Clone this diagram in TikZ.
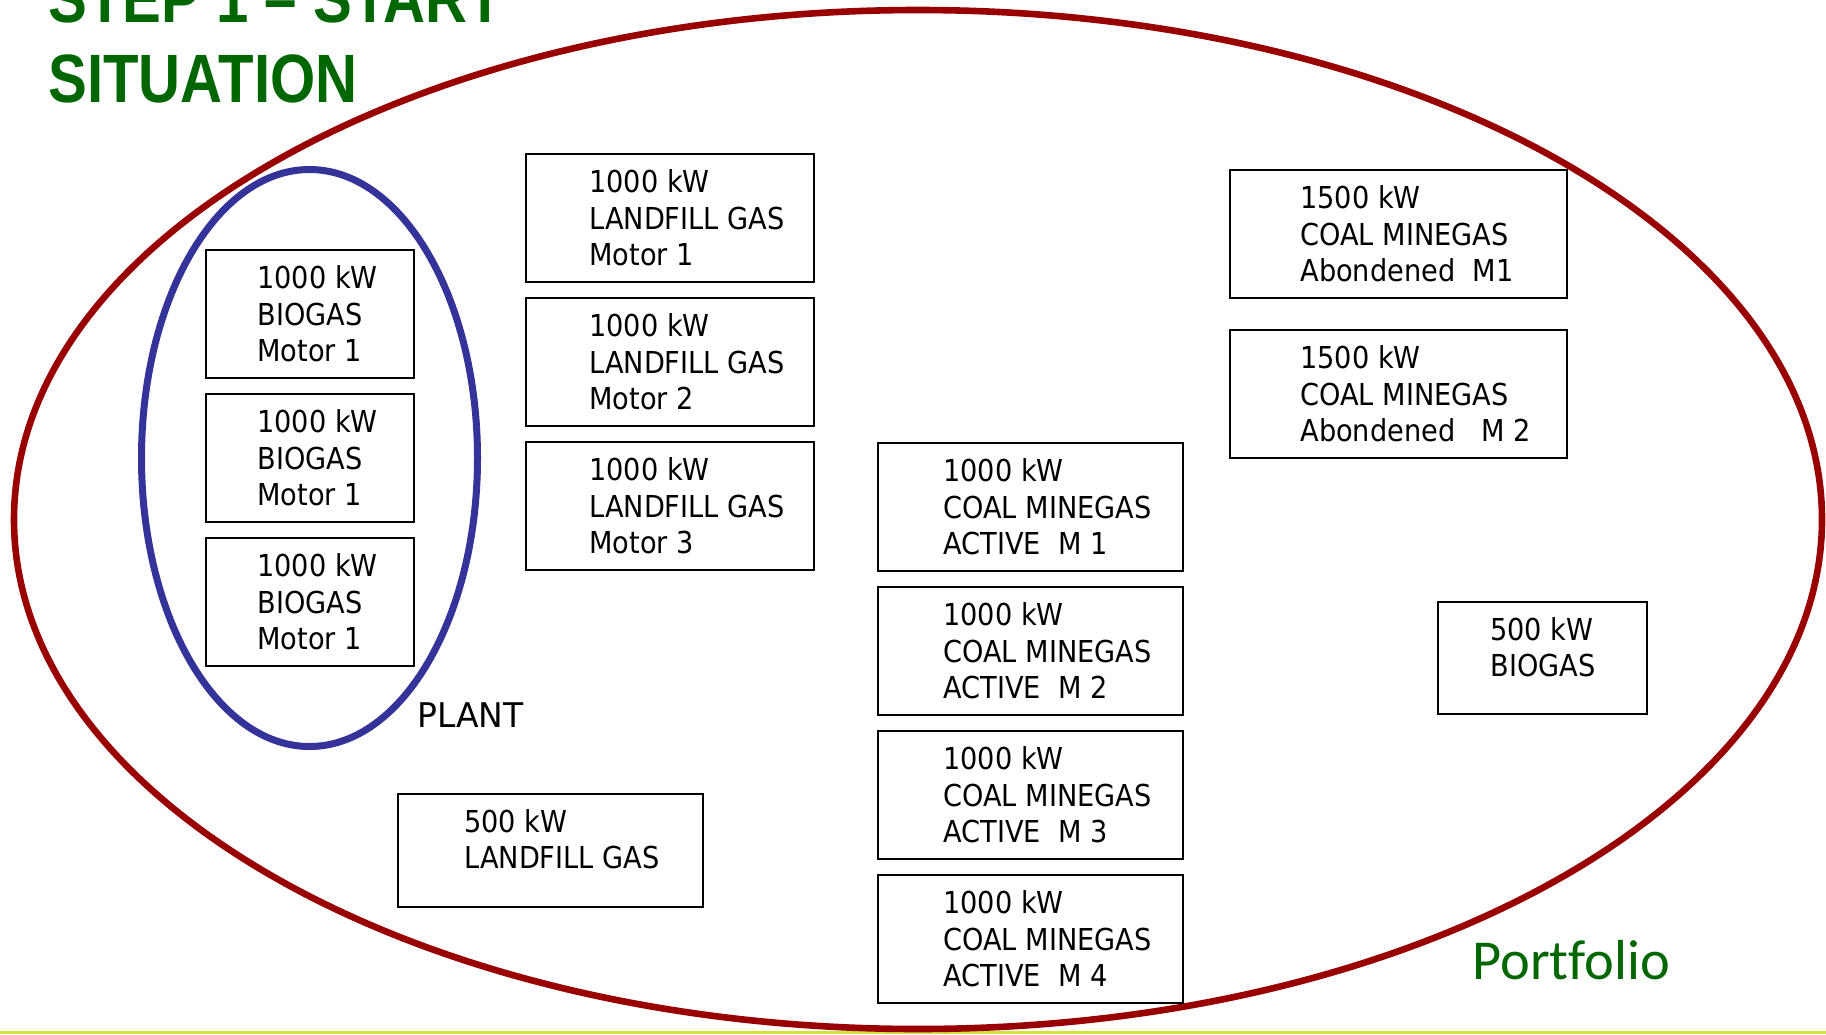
\documentclass[tikz,border=0pt]{standalone}
\usepackage{fontspec}
\usetikzlibrary{shapes.geometric}
\newfontfamily\boxfont{DejaVu Sans}[FakeStretch=0.9]
\newfontfamily\plantfont{DejaVu Sans}[FakeStretch=0.97]
\newfontfamily\titlefont{Liberation Sans}[FakeStretch=0.85]
\newfontfamily\portfont{Carlito}[Ligatures={NoCommon}]
\definecolor{ttlgreen}{RGB}{0,102,0}
\definecolor{pfred}{RGB}{153,0,0}
\definecolor{plblue}{RGB}{51,51,153}
\definecolor{rulegreen}{RGB}{214,226,58}
\tikzset{
  pbox/.style={draw=black, line width=0.7pt, fill=white, inner sep=0pt, rectangle},
  ptext/.style={inner sep=0pt, align=left, anchor=west, text=black,
    font=\boxfont\fontsize{15.1}{18.3}\selectfont},
  ttl/.style={inner sep=0pt, anchor=base west, text=ttlgreen,
    font=\titlefont\bfseries\fontsize{34.2}{40}\selectfont},
}
\begin{document}
\begin{tikzpicture}[x=0.5pt, y=-0.5pt]
\useasboundingbox (0,0) rectangle (1826,1034);
\fill[rulegreen] (0,1031) rectangle (1826,1034);
% portfolio ellipse
\node[ellipse, draw=pfred, line width=3.3pt, inner sep=0pt,
      minimum width=904pt, minimum height=509.5pt] (portfolio) at (918,519.5) {};
% plant ellipse
\node[ellipse, draw=plblue, line width=3.5pt, inner sep=0pt,
      minimum width=168pt, minimum height=288.5pt] (plant) at (309.5,458) {};
% boxes
\node[pbox, minimum width=104pt, minimum height=64pt] (bio1) at (310,314) {};
\node[pbox, minimum width=104pt, minimum height=64pt] (bio2) at (310,458) {};
\node[pbox, minimum width=104pt, minimum height=64pt] (bio3) at (310,602) {};
\node[pbox, minimum width=144pt, minimum height=64pt] (lf1) at (670,218) {};
\node[pbox, minimum width=144pt, minimum height=64pt] (lf2) at (670,362) {};
\node[pbox, minimum width=144pt, minimum height=64pt] (lf3) at (670,506) {};
\node[pbox, minimum width=152.5pt, minimum height=64pt] (cm1) at (1030.5,507) {};
\node[pbox, minimum width=152.5pt, minimum height=64pt] (cm2) at (1030.5,651) {};
\node[pbox, minimum width=152.5pt, minimum height=64pt] (cm3) at (1030.5,795) {};
\node[pbox, minimum width=152.5pt, minimum height=64pt] (cm4) at (1030.5,939) {};
\node[pbox, minimum width=168.5pt, minimum height=64pt] (ab1) at (1398.5,234) {};
\node[pbox, minimum width=168.5pt, minimum height=64pt] (ab2) at (1398.5,394) {};
\node[pbox, minimum width=104.5pt, minimum height=56pt] (bio500) at (1542.5,658) {};
\node[pbox, minimum width=152.5pt, minimum height=56.5pt] (lf500) at (550.5,850.5) {};
% texts
\node[ptext] (bio1t) at (257,314) {1000 kW\\BIOGAS\\Motor 1};
\node[ptext] (bio2t) at (257,458) {1000 kW\\BIOGAS\\Motor 1};
\node[ptext] (bio3t) at (257,602) {1000 kW\\BIOGAS\\Motor 1};
\node[ptext] (lf1t) at (589,218) {1000 kW\\LANDFILL GAS\\Motor 1};
\node[ptext] (lf2t) at (589,362) {1000 kW\\LANDFILL GAS\\Motor 2};
\node[ptext] (lf3t) at (589,506) {1000 kW\\LANDFILL GAS\\Motor 3};
\node[ptext] (cm1t) at (943,507) {1000 kW\\COAL MINEGAS\\ACTIVE\ \ M 1};
\node[ptext] (cm2t) at (943,651) {1000 kW\\COAL MINEGAS\\ACTIVE\ \ M 2};
\node[ptext] (cm3t) at (943,795) {1000 kW\\COAL MINEGAS\\ACTIVE\ \ M 3};
\node[ptext] (cm4t) at (943,939) {1000 kW\\COAL MINEGAS\\ACTIVE\ \ M 4};
\node[ptext] (ab1t) at (1300,234) {1500 kW\\COAL MINEGAS\\Abondened\ \ M1};
\node[ptext] (ab2t) at (1300,394) {1500 kW\\COAL MINEGAS\\Abondened\ \ \ M 2};
\node[ptext] (bio500t) at (1490,658) {500 kW\\BIOGAS\rule[-11pt]{0pt}{11pt}};
\node[ptext] (lf500t) at (464,850.5) {500 kW\\LANDFILL GAS\rule[-11.5pt]{0pt}{11.5pt}};
% labels
\node[inner sep=0pt, anchor=base west, font=\plantfont\fontsize{17}{20}\selectfont] (plantlbl) at (417,727) {PLANT};
\node[inner sep=0pt, anchor=base west, text=ttlgreen, font=\portfont\fontsize{28.2}{32}\selectfont] (portlbl) at (1472,979) {Portfolio};
\node[ttl] (title1) at (48,22) {STEP 1 – START};
\node[ttl] (title2) at (48,102) {SITUATION};
\end{tikzpicture}
\end{document}
